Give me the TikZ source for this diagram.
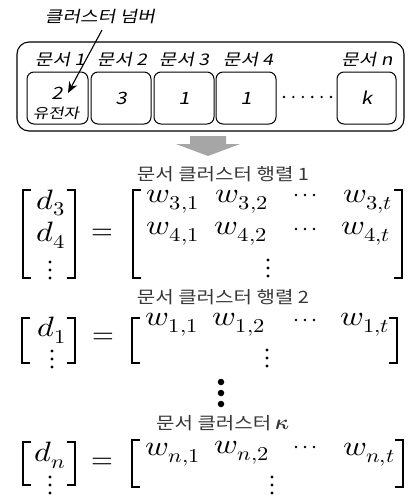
\documentclass[tikz,border=0pt]{standalone}
\usepackage{amsmath}
\usepackage{fontspec}
\usepackage{unicode-math}
\setmathfont{Latin Modern Math}
\usetikzlibrary{positioning,arrows.meta}
\newfontfamily\kofont[FakeStretch=1.18]{Noto Sans CJK KR}
\newfontfamily\kofontit[FakeSlant=0.2,FakeStretch=1.2]{Noto Sans CJK KR}
\definecolor{arrowgray}{RGB}{166,166,166}
\definecolor{labelgray}{RGB}{55,55,55}

\begin{document}
\begin{tikzpicture}[
    x=1pt, y=-1pt,
    docbox/.style={draw, rounded corners=7pt, line width=1pt, minimum width=60pt, minimum height=52pt, inner sep=0pt, font=\kofontit\fontsize{17}{20}\selectfont},
    doclabel/.style={font=\kofontit\fontsize{16}{19}\selectfont, inner sep=0pt},
    cluslabel/.style={font=\kofont\fontsize{17}{19}\selectfont, text=labelgray, inner sep=0pt},
    entry/.style={font=\fontsize{28}{32}\selectfont, inner sep=0pt, xscale=1.15, transform shape},
    sign/.style={font=\fontsize{28}{32}\selectfont, inner sep=0pt},
    brk/.style={line width=1.8pt},
    vdot/.style={circle, fill, inner sep=0pt, minimum size=3.4pt},
    hdot/.style={circle, fill, inner sep=0pt, minimum size=2.8pt},
    bigdot/.style={circle, fill, inner sep=0pt, minimum size=6.5pt},
    arrow/.style={-{Stealth[length=11pt,width=9pt]}, line width=1.1pt}
]
\useasboundingbox (0,0) rectangle (411,495);

% cluster numbers of the documents
\node[doclabel] (tag) at (100,17) {클러스터 넘버};
\node[draw, rounded corners=12pt, line width=1.1pt, minimum width=387pt, minimum height=89pt] (outer) at (210.5,86.5) {};

\node[docbox, minimum width=61pt] (b1) at (57.5,98) {};
\node[docbox, right=2pt of b1] (b2) {3};
\node[docbox, right=2pt of b2] (b3) {1};
\node[docbox, right=1pt of b3] (b4) {1};
\node[docbox, minimum width=59pt] (bn) at (366.5,98) {k};
\node[doclabel, font=\kofontit\fontsize{17}{20}\selectfont] (b1num) at (57,93) {2};
\node[doclabel, font=\kofontit\fontsize{14}{17}\selectfont] (b1gene) at (56,113) {유전자};

\node[doclabel] (l1) at (60,60) {문서 1};
\node[doclabel] (l2) at (122,60) {문서 2};
\node[doclabel] (l3) at (184,60) {문서 3};
\node[doclabel] (l4) at (248,60) {문서 4};
\node[doclabel] (ln) at (367,60) {문서 n};

\foreach \i in {0,...,5}
    \node[hdot, minimum size=2.6pt] (hd\i) at (284+9.4*\i,97) {};

\coordinate (tagtail) at (102,30);
\coordinate (taghead) at (68,93);
\draw[arrow] (tagtail) -- (taghead);

% gray arrow
\fill[arrowgray] (190,136) -- (226,136) -- (226,144) -- (240,144) -- (208,156) -- (176,144) -- (190,144) -- cycle;

% matrix 1
\node[cluslabel] (c1) at (223,174) {문서 클러스터 행렬 1};
\draw[brk] (31,190) -- (23,190) -- (23,278) -- (31,278);
\draw[brk] (67,190) -- (75,190) -- (75,278) -- (67,278);
\node[entry] (m1d1) at (51,203) {$d_3$};
\node[entry] (m1d2) at (51,235) {$d_4$};
\node[vdot] (m1v1) at (50,262) {};
\node[vdot] (m1v2) at (50,270) {};
\node[vdot] (m1v3) at (50,278) {};
\node[sign] (m1eq) at (102,234) {$=$};
\draw[brk] (141,190) -- (133,190) -- (133,278) -- (141,278);
\draw[brk] (394,190) -- (402,190) -- (402,278) -- (394,278);
\node[entry] (m1w11) at (173,202) {$w_{3,1}$};
\node[entry] (m1w12) at (242,202) {$w_{3,2}$};
\node[hdot] (m1h1) at (296,195) {};
\node[hdot] (m1h2) at (305,195) {};
\node[hdot] (m1h3) at (314,195) {};
\node[entry] (m1w1t) at (368,202) {$w_{3,t}$};
\node[entry] (m1w21) at (173,234) {$w_{4,1}$};
\node[entry] (m1w22) at (241,234) {$w_{4,2}$};
\node[hdot] (m1h4) at (296,229) {};
\node[hdot] (m1h5) at (305,229) {};
\node[hdot] (m1h6) at (314,229) {};
\node[entry] (m1w2t) at (366,234) {$w_{4,t}$};
\node[vdot] (m1v4) at (268,260) {};
\node[vdot] (m1v5) at (268,268) {};
\node[vdot] (m1v6) at (268,276) {};

% matrix 2
\node[cluslabel] (c2) at (223,297) {문서 클러스터 행렬 2};
\draw[brk] (30,318) -- (22,318) -- (22,363) -- (30,363);
\draw[brk] (67,318) -- (75,318) -- (75,363) -- (67,363);
\node[entry] (m2d1) at (52,330) {$d_1$};
\node[vdot] (m2v1) at (52,351) {};
\node[vdot] (m2v2) at (52,359) {};
\node[vdot] (m2v3) at (52,367) {};
\node[sign] (m2eq) at (103,338) {$=$};
\draw[brk] (140,318) -- (132,318) -- (132,363) -- (140,363);
\draw[brk] (389,318) -- (397,318) -- (397,363) -- (389,363);
\node[entry] (m2w11) at (172,325) {$w_{1,1}$};
\node[entry] (m2w12) at (239,325) {$w_{1,2}$};
\node[hdot] (m2h1) at (296,320) {};
\node[hdot] (m2h2) at (305,320) {};
\node[hdot] (m2h3) at (314,320) {};
\node[entry] (m2w1t) at (365,325) {$w_{1,t}$};
\node[vdot] (m2v4) at (267,350) {};
\node[vdot] (m2v5) at (267,358) {};
\node[vdot] (m2v6) at (267,366) {};

% more clusters
\node[bigdot] (g1) at (221,382) {};
\node[bigdot] (g2) at (221,393) {};
\node[bigdot] (g3) at (221,404) {};

% matrix K
\node[cluslabel] (ck) at (223,423) {문서 클러스터 {\fontsize{21}{21}\selectfont$\symbfit{\kappa}$}};
\draw[brk] (31,442) -- (23,442) -- (23,485) -- (31,485);
\draw[brk] (67,442) -- (75,442) -- (75,485) -- (67,485);
\node[entry] (mkd1) at (50,455) {$d_n$};
\node[vdot] (mkv1) at (50,477) {};
\node[vdot] (mkv2) at (50,485) {};
\node[vdot] (mkv3) at (50,493) {};
\node[sign] (mkeq) at (102,463) {$=$};
\draw[brk] (140,440) -- (132,440) -- (132,487) -- (140,487);
\draw[brk] (395,440) -- (403,440) -- (403,487) -- (395,487);
\node[entry] (mkw11) at (173,455) {$w_{n,1}$};
\node[entry] (mkw12) at (242,453) {$w_{n,2}$};
\node[hdot] (mkh1) at (296,447) {};
\node[hdot] (mkh2) at (305,447) {};
\node[hdot] (mkh3) at (314,447) {};
\node[entry] (mkw1t) at (369,455) {$w_{n,t}$};
\node[vdot] (mkv4) at (272,477) {};
\node[vdot] (mkv5) at (272,485) {};
\node[vdot] (mkv6) at (272,493) {};

\end{tikzpicture}
\end{document}
